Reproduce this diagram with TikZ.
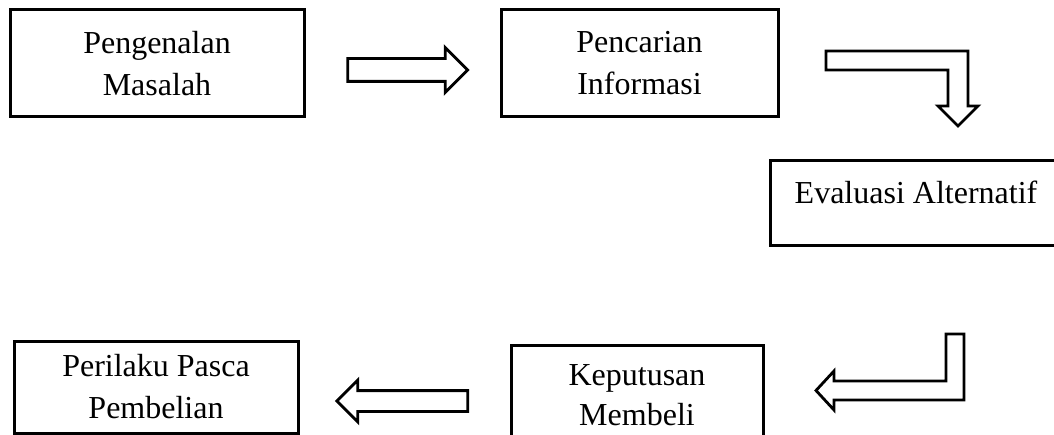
\documentclass[tikz,border=0pt]{standalone}
\usepackage{fontspec}
\setmainfont{Liberation Serif}
\usetikzlibrary{shapes.arrows}

\begin{document}
\begin{tikzpicture}[x=1pt,y=1pt,
  box/.style={draw,line width=3pt,align=center,inner sep=0pt,
    font=\fontsize{32}{42}\selectfont},
  blockarrow/.style={draw,line width=2.8pt,single arrow,inner xsep=0pt,
    single arrow tip angle=90},
  bent/.style={draw,line width=2.8pt,line join=miter}]
\clip (0,0) rectangle (1054,434);
\node[box,minimum width=294pt,minimum height=107pt] (masalah) at (157,370.5) {Pengenalan\\Masalah};
\node[box,minimum width=277pt,minimum height=107pt] (informasi) at (639.5,370.5) {Pencarian\\Informasi};
\node[box,minimum width=292pt,minimum height=85pt,text height=22pt,text depth=21pt] (evaluasi) at (916,230.5) {Evaluasi Alternatif};
\node[box,minimum width=252pt,minimum height=100pt,font=\fontsize{32}{40}\selectfont] (keputusan) at (637,39) {Keputusan\\Membeli};
\node[box,minimum width=284pt,minimum height=92pt] (pascabeli) at (156,47) {Perilaku Pasca\\Pembelian};
% panah lurus
\node[blockarrow,inner ysep=10pt,single arrow head extend=11pt,minimum height=120pt] (panah1) at (402,364) {};
\node[blockarrow,inner ysep=9pt,single arrow head extend=10.5pt,minimum height=131pt,shape border rotate=180] (panah4) at (407.5,33) {};
% panah bengkok
\draw[bent] (826,383) -- (968,383) -- (968,328) -- (978,328) -- (958,308) -- (938,328)
  -- (948,328) -- (948,364) -- (826,364) -- cycle;
\draw[bent] (946,100) -- (964,100) -- (964,34) -- (834,34) -- (834,24) -- (816,43.5)
  -- (834,63) -- (834,53) -- (946,53) -- cycle;
\end{tikzpicture}
\end{document}
